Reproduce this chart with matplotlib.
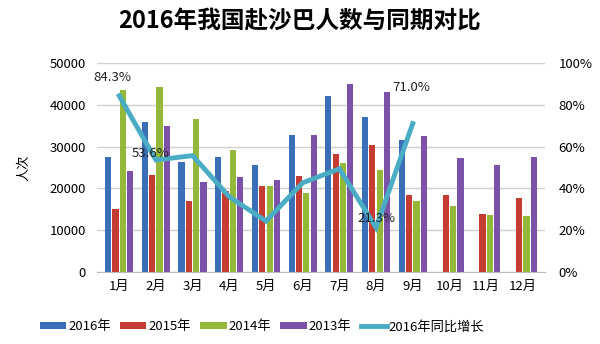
import matplotlib
matplotlib.use("Agg")
import matplotlib.pyplot as plt
import numpy as np

plt.rcParams['font.family'] = ['Noto Sans CJK SC', 'DejaVu Sans']

# données
months = ['1月', '2月', '3月', '4月', '5月', '6月', '7月', '8月', '9月', '10月', '11月', '12月']
y2016 = [27600, 35800, 26400, 27600, 25500, 32800, 42200, 37000, 31700, np.nan, np.nan, np.nan]
y2015 = [15000, 23300, 16900, 19300, 20500, 22900, 28300, 30500, 18500, 18500, 13800, 17800]
y2014 = [43600, 44200, 36700, 29100, 20700, 18800, 26000, 24500, 17000, 15900, 13700, 13500]
y2013 = [24200, 35000, 21600, 22700, 22100, 32800, 45000, 43000, 32600, 27200, 25500, 27400]
growth = [84.3, 53.6, 55.7, 36.0, 24.4, 42.7, 49.4, 21.3, 71.0]
growth_labels = {0: '84.3%', 1: '53.6%', 7: '21.3%', 8: '71.0%'}

fig = plt.figure(figsize=(6, 3.44), dpi=100)
ax = fig.add_axes([0.162, 0.209, 0.746, 0.608])
ax2 = ax.twinx()

x = np.arange(len(months))
w = 0.2
series = [(y2016, '2016年', '#3a6fb8'), (y2015, '2015年', '#c43c32'),
          (y2014, '2014年', '#93b83a'), (y2013, '2013年', '#7b52a8')]
for i, (vals, lab, col) in enumerate(series):
    ax.bar(x + (i - 1.5) * w, vals, w * 0.85, color=col, label=lab, zorder=2)

ax.set_ylim(0, 50000)
ax.set_yticks(np.arange(0, 50001, 10000))
ax.set_xlim(-0.6, 11.6)
ax.set_xticks(x)
ax.set_xticklabels(months, fontsize=9.5)
ax.tick_params(axis='y', labelsize=9.5, length=0, pad=8)
ax.tick_params(axis='x', length=0, pad=6)
ax.grid(axis='y', color='#d0d0d0', linewidth=1, zorder=0)
ax.set_axisbelow(True)
for s in ['top', 'right', 'left']:
    ax.spines[s].set_visible(False)
ax.spines['bottom'].set_color('#bbbbbb')
ax.set_ylabel('人次', fontsize=9.5, labelpad=14)

ln, = ax2.plot(x[:len(growth)], growth, color='#4bacc6', linewidth=3.5,
               label='2016年同比增长', solid_joinstyle='miter', zorder=3)
ax2.set_ylim(0, 100)
ax2.set_yticks(np.arange(0, 101, 20))
ax2.set_yticklabels([f'{v}%' for v in range(0, 101, 20)])
ax2.tick_params(axis='y', labelsize=9.5, length=0, pad=10)
for s in ['top', 'right', 'left', 'bottom']:
    ax2.spines[s].set_visible(False)

offsets = {0: (-0.7, 7), 1: (-0.65, 1.5), 7: (-0.5, 2.5), 8: (-0.55, 15.5)}
for i, txt in growth_labels.items():
    dx, dy = offsets[i]
    ax2.text(i + dx, growth[i] + dy, txt, fontsize=9.5, color='#222222')

fig.suptitle('2016年我国赴沙巴人数与同期对比', fontsize=17, fontweight='bold', y=0.975)

handles = [h for h in ax.get_legend_handles_labels()[0]] + [ln]
labels = ['2016年', '2015年', '2014年', '2013年', '2016年同比增长']
fig.legend(handles, labels, loc='center', bbox_to_anchor=(0.437, 0.05), ncol=5,
           frameon=False, fontsize=9.5, handlelength=2.0, handleheight=0.5,
           columnspacing=0.7, handletextpad=0.15)

fig.savefig('out.png', dpi=100)
